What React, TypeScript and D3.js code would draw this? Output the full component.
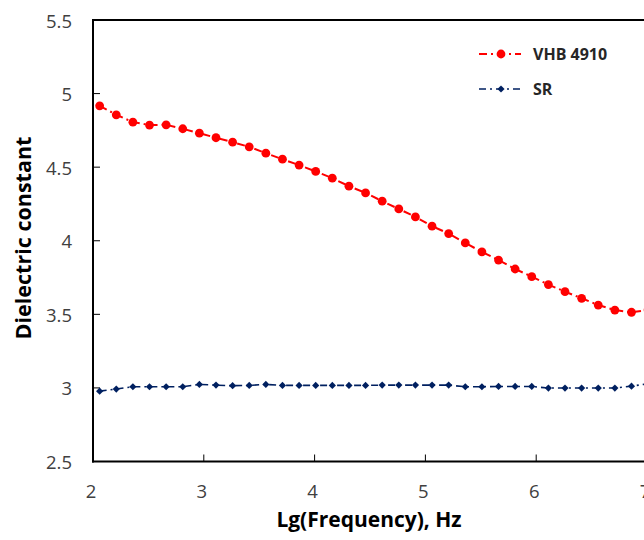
import React from "react";
import * as d3 from "d3";

const lgFreq = [2.06, 2.21, 2.36, 2.51, 2.66, 2.81, 2.96, 3.11, 3.26, 3.41, 3.56, 3.71, 3.86, 4.01, 4.16, 4.31, 4.46, 4.61, 4.76, 4.91, 5.06, 5.21, 5.36, 5.51, 5.66, 5.81, 5.96, 6.11, 6.26, 6.41, 6.56, 6.71, 6.86, 7.01];
const vhb4910 = [4.917, 4.856, 4.806, 4.786, 4.788, 4.761, 4.731, 4.70, 4.670, 4.638, 4.595, 4.554, 4.514, 4.471, 4.425, 4.371, 4.325, 4.269, 4.216, 4.162, 4.099, 4.049, 3.985, 3.924, 3.869, 3.808, 3.756, 3.702, 3.654, 3.609, 3.563, 3.529, 3.514, 3.53];
const sr = [2.978, 2.992, 3.008, 3.008, 3.008, 3.008, 3.024, 3.019, 3.015, 3.017, 3.024, 3.017, 3.017, 3.017, 3.017, 3.017, 3.017, 3.019, 3.019, 3.019, 3.019, 3.019, 3.008, 3.008, 3.010, 3.010, 3.010, 2.999, 2.999, 2.999, 2.999, 2.999, 3.012, 3.028];
const xTicks = [2, 3, 4, 5, 6, 7];
const yTicks = [2.5, 3, 3.5, 4, 4.5, 5, 5.5];
const seriesNames = ["VHB 4910", "SR"];

const W = 644;
const H = 540;
const RED = "#FF0000";
const NAVY = "#002060";
const FONT = "'Open Sans', 'Liberation Sans', sans-serif";

export default function App() {
  const x = d3.scaleLinear().domain([2, 7]).range([93, 647]);
  const y = d3.scaleLinear().domain([2.5, 5.5]).range([461.5, 20]);
  const line = d3
    .line<[number, number]>()
    .x((d) => x(d[0]))
    .y((d) => y(d[1]));
  const redPts: [number, number][] = lgFreq.map((f, i) => [f, vhb4910[i]]);
  const bluePts: [number, number][] = lgFreq.map((f, i) => [f, sr[i]]);
  const diamond = (r: number) => `M0,${-r}L${r},0L0,${r}L${-r},0Z`;

  return (
    <svg
      width={W}
      height={H}
      style={{ position: "absolute", left: 0, top: 0, background: "#fff" }}
      fontFamily={FONT}
    >
      <rect x={0} y={0} width={W} height={H} fill="#fff" />
      {/* frame */}
      <line x1={x(2)} x2={W + 5} y1={y(5.5)} y2={y(5.5)} stroke="#000" strokeWidth={2} />
      <line x1={x(2)} x2={x(2)} y1={y(5.5) - 1} y2={y(2.5) + 1} stroke="#000" strokeWidth={2} />
      <line x1={x(2) - 1} x2={W + 5} y1={y(2.5)} y2={y(2.5)} stroke="#000" strokeWidth={2} />
      {/* y ticks */}
      {yTicks.map((t) => (
        <g key={"y" + t}>
          {t !== 2.5 && t !== 5.5 && (
            <line x1={x(2)} x2={x(2) + 7} y1={y(t)} y2={y(t)} stroke="#000" strokeWidth={1} />
          )}
          <text
            x={72}
            y={y(t)}
            textAnchor="end"
            dominantBaseline="central"
            fontSize={18.5}
            fill="#404040"
          >
            {String(t)}
          </text>
        </g>
      ))}
      {/* x ticks */}
      {xTicks.map((t) => (
        <g key={"x" + t}>
          {t !== 2 && (
            <line x1={x(t)} x2={x(t)} y1={y(2.5)} y2={y(2.5) - 7} stroke="#000" strokeWidth={1} />
          )}
          <text
            x={x(t) - 2}
            y={490}
            textAnchor="middle"
            dominantBaseline="central"
            fontSize={18.5}
            fill="#404040"
          >
            {String(t)}
          </text>
        </g>
      ))}
      {/* axis titles */}
      <text
        transform={`translate(31, ${238}) rotate(-90)`}
        textAnchor="middle"
        fontSize={21.5}
        fontWeight="bold"
        fill="#000"
      >
        Dielectric constant
      </text>
      <text x={369} y={527} textAnchor="middle" fontSize={21} fontWeight="bold" fill="#000">
        Lg(Frequency), Hz
      </text>
      {/* series */}
      <path d={line(redPts) || ""} fill="none" stroke={RED} strokeWidth={2} strokeDasharray="8,4,2,4" />
      {redPts.map((p, i) => (
        <circle key={"r" + i} cx={x(p[0])} cy={y(p[1])} r={4.4} fill={RED} />
      ))}
      <path d={line(bluePts) || ""} fill="none" stroke={NAVY} strokeWidth={1.6} strokeDasharray="7,4,2,4" />
      {bluePts.map((p, i) => (
        <path key={"b" + i} transform={`translate(${x(p[0])},${y(p[1])})`} d={diamond(3.6)} fill={NAVY} />
      ))}
      {/* legend */}
      <g>
        <line x1={479} x2={521} y1={54} y2={54} stroke={RED} strokeWidth={2} strokeDasharray="8,4,2,4" />
        <circle cx={501} cy={54} r={4.4} fill={RED} />
        <text x={533} y={54} dominantBaseline="central" fontSize={16} fontWeight="bold" fill="#262626">
          {seriesNames[0]}
        </text>
        <line x1={479} x2={521} y1={89} y2={89} stroke={NAVY} strokeWidth={1.6} strokeDasharray="7,4,2,4" />
        <path transform="translate(501,89)" d={diamond(3.6)} fill={NAVY} />
        <text x={533} y={89} dominantBaseline="central" fontSize={16} fontWeight="bold" fill="#262626">
          {seriesNames[1]}
        </text>
      </g>
    </svg>
  );
}
